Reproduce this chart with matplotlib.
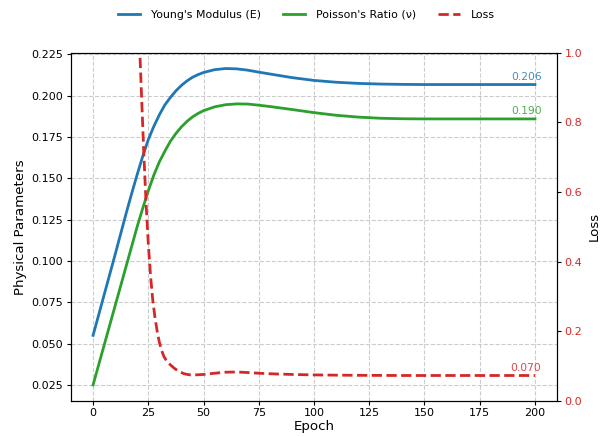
import numpy as np
import matplotlib
matplotlib.use("Agg")
import matplotlib.pyplot as plt

# epochs for the two physical parameters
epochs = [0, 5, 10, 12.5, 15, 17.5, 20, 22.5, 25, 27.5, 30, 32.5, 35, 37.5,
          40, 42.5, 45, 47.5, 50, 55, 60, 65, 70, 75, 80, 90, 100, 110, 120,
          130, 140, 150, 160, 170, 180, 190, 200]
youngs = [0.055, 0.0795, 0.104, 0.1165, 0.129, 0.141, 0.1525, 0.1635, 0.1735,
          0.1815, 0.1885, 0.1945, 0.1990, 0.2030, 0.2063, 0.2090, 0.2112,
          0.2128, 0.2141, 0.2158, 0.2165, 0.2163, 0.2155, 0.2143, 0.2132,
          0.2110, 0.2093, 0.2082, 0.2075, 0.2071, 0.2069, 0.2068, 0.2068,
          0.2068, 0.2068, 0.2068, 0.2068]
poisson = [0.025, 0.049, 0.073, 0.085, 0.097, 0.109, 0.121, 0.132, 0.1425,
           0.152, 0.160, 0.1665, 0.1725, 0.1772, 0.1812, 0.1845, 0.1872,
           0.1893, 0.1910, 0.1933, 0.1946, 0.1951, 0.1950, 0.1943, 0.1935,
           0.1917, 0.1898, 0.1882, 0.1871, 0.1864, 0.1861, 0.1860, 0.1860,
           0.1860, 0.1860, 0.1860, 0.1860]

# loss sampled more densely where it drops
loss_epochs = [0, 5, 10, 15, 20, 21, 22, 23, 24, 25, 26, 27, 28, 29, 30, 31,
               32, 33, 34, 35, 37, 39, 41, 43, 45, 50, 55, 60, 65, 70, 75, 80,
               90, 100, 110, 120, 140, 160, 180, 200]
loss = [3.0, 2.5, 2.0, 1.6, 1.2, 1.03, 0.865, 0.705, 0.565, 0.45, 0.36, 0.29,
        0.24, 0.20, 0.168, 0.145, 0.128, 0.117, 0.109, 0.103, 0.092, 0.084,
        0.078, 0.075, 0.0738, 0.0755, 0.079, 0.082, 0.0825, 0.081, 0.079,
        0.0775, 0.0755, 0.0742, 0.0735, 0.073, 0.0725, 0.0725, 0.0725, 0.0725]

end_labels = ["0.206", "0.190", "0.070"]

fig, ax1 = plt.subplots(figsize=(6.13, 4.37), dpi=100)
fig.subplots_adjust(left=0.1158, right=0.9087, bottom=0.083, top=0.8794)

l1, = ax1.plot(epochs, youngs, color="tab:blue", lw=2, label="Young's Modulus (E)")
l2, = ax1.plot(epochs, poisson, color="tab:green", lw=2, label="Poisson's Ratio (ν)")
ax1.set_xlabel("Epoch", fontsize=9.6, labelpad=1.5)
ax1.set_ylabel("Physical Parameters", fontsize=9.6, labelpad=3.5)
ax1.tick_params(labelsize=8, length=3, pad=2.5)
ax1.grid(True, linestyle="--", color="#cccccc", lw=0.8)

ax2 = ax1.twinx()
l3, = ax2.plot(loss_epochs, loss, color="tab:red", lw=2, ls="--", label="Loss")
ax2.set_ylim(0, 1)
ax2.set_ylabel("Loss", fontsize=9.6, labelpad=3.5)
ax2.tick_params(axis="y", labelsize=8, labelcolor="tab:red", length=3, pad=2.5)

ax1.text(196, 0.2116, end_labels[0], color="tab:blue", fontsize=7.7,
         ha="center", va="center", alpha=0.85)
ax1.text(196, 0.1906, end_labels[1], color="tab:green", fontsize=7.7,
         ha="center", va="center", alpha=0.85)
ax2.text(196, 0.093, end_labels[2], color="tab:red", fontsize=7.7,
         ha="center", va="center", alpha=0.85)

fig.legend(handles=[l1, l2, l3], loc="upper center", ncol=3, frameon=False,
           fontsize=7.9, bbox_to_anchor=(0.5, 1.0), handletextpad=1.0)

fig.savefig("out.png", dpi=100)
